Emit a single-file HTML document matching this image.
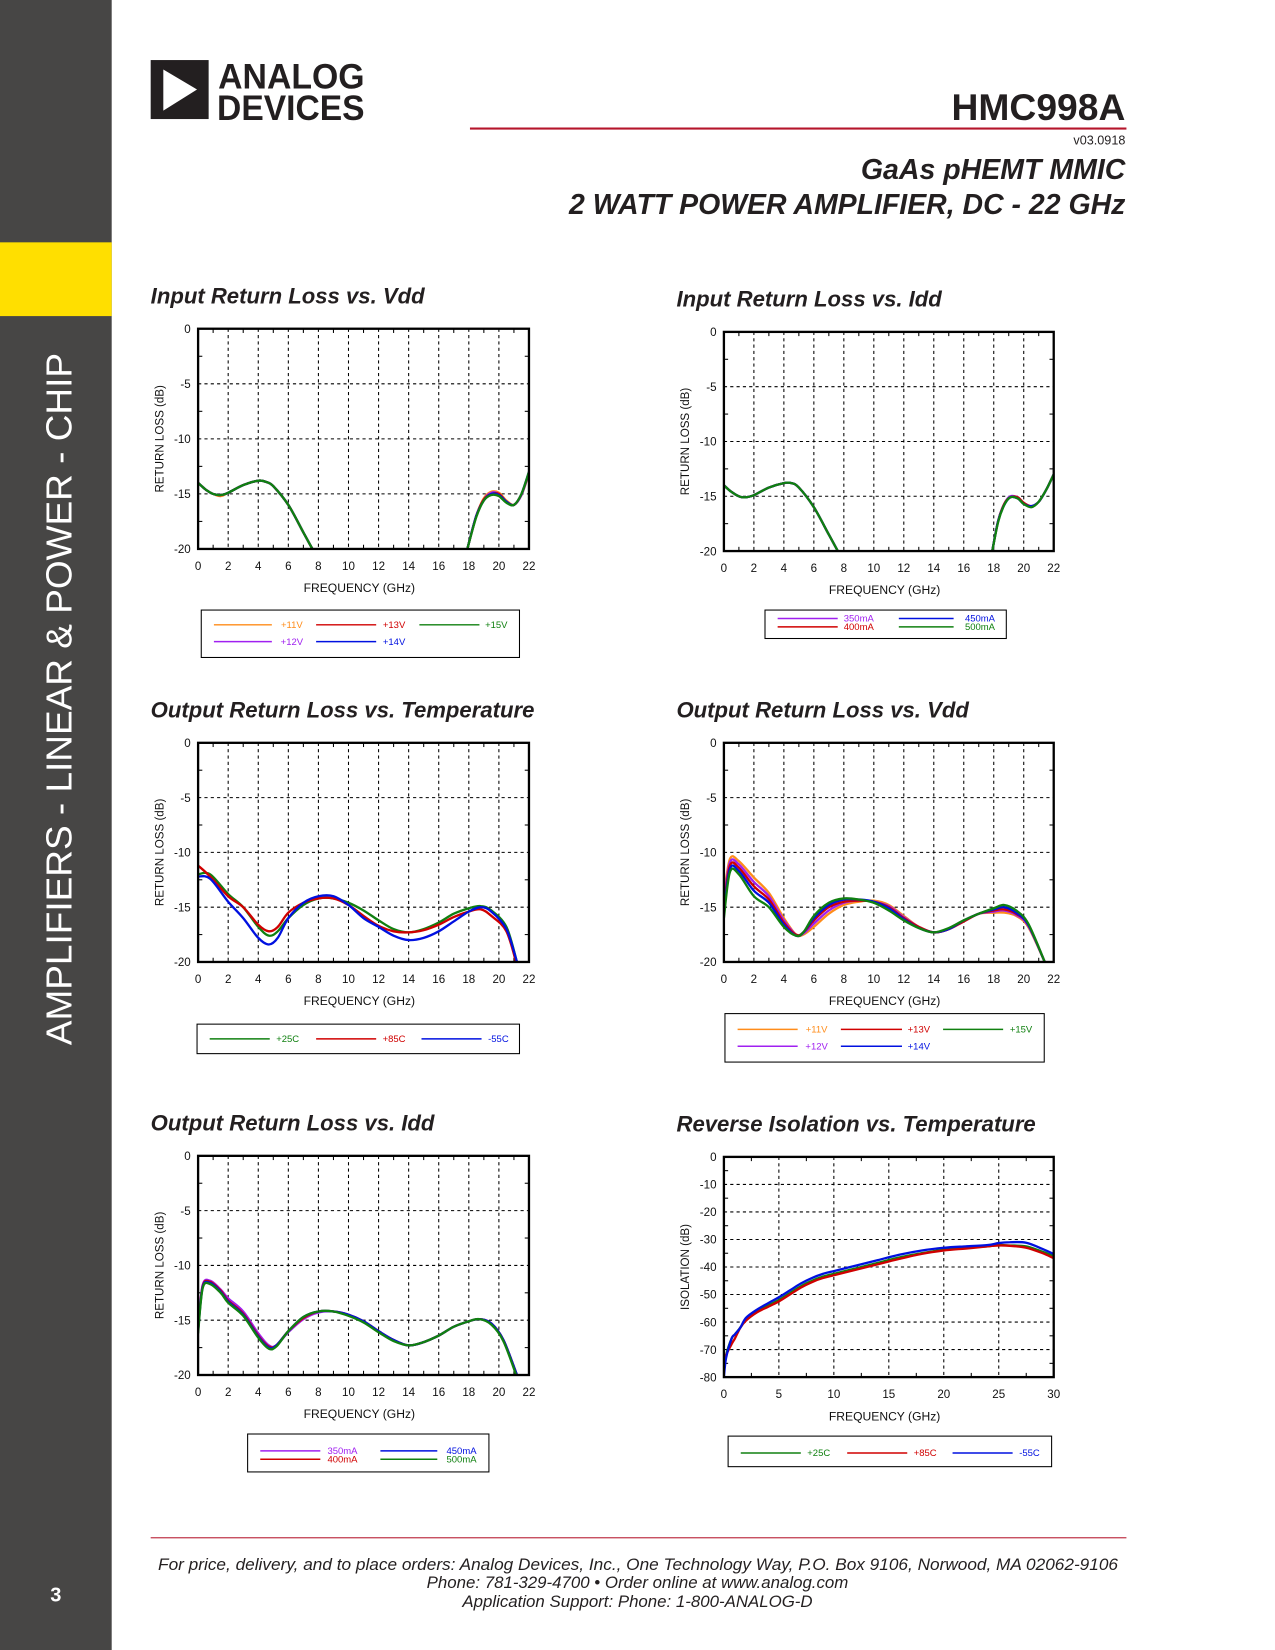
<!DOCTYPE html>
<html><head><meta charset="utf-8"><style>
html,body{margin:0;padding:0;background:#fff;}
svg{display:block;}
text{font-family:"Liberation Sans",Arial,sans-serif;}
</style></head><body>
<svg id="page" width="1275" height="1650" viewBox="0 0 1210 1566" preserveAspectRatio="none" xmlns="http://www.w3.org/2000/svg">
<rect x="0" y="0" width="106" height="1566" fill="#474645"/>
<rect x="0" y="230" width="106" height="70" fill="#ffdf00"/>
<text transform="translate(68,992) rotate(-90)" fill="#fff" font-size="34" textLength="657" lengthAdjust="spacingAndGlyphs">AMPLIFIERS - LINEAR &amp; POWER - CHIP</text>
<text x="53" y="1520" fill="#fff" font-size="19" font-weight="bold" text-anchor="middle">3</text>
<g>
<rect x="143" y="57" width="55" height="56" fill="#231f20"/>
<polygon points="155,66 155,105 187,85" fill="#fff"/>
<text x="207" y="84" font-size="33" font-weight="bold" fill="#231f20" textLength="139" lengthAdjust="spacingAndGlyphs">ANALOG</text>
<text x="206" y="114" font-size="33" font-weight="bold" fill="#231f20" textLength="140" lengthAdjust="spacingAndGlyphs">DEVICES</text>
</g>
<text x="903" y="114" font-size="35" font-weight="bold" fill="#231f20" textLength="165" lengthAdjust="spacingAndGlyphs">HMC998A</text>
<rect x="446" y="121" width="623" height="2" fill="#b5152b"/>
<text x="1068" y="137" font-size="12" text-anchor="end" fill="#231f20">v03.0918</text>
<text x="817" y="170" font-size="27" font-weight="bold" font-style="italic" fill="#231f20" textLength="251" lengthAdjust="spacingAndGlyphs">GaAs pHEMT MMIC</text>
<text x="540" y="203" font-size="27" font-weight="bold" font-style="italic" fill="#231f20" textLength="528" lengthAdjust="spacingAndGlyphs">2 WATT POWER AMPLIFIER, DC - 22 GHz</text>
<rect x="143" y="1459" width="926" height="1" fill="#b5152b"/>
<text x="150" y="1490" font-size="16" font-style="italic" fill="#231f20" textLength="911" lengthAdjust="spacingAndGlyphs">For price, delivery, and to place orders: Analog Devices, Inc., One Technology Way, P.O. Box 9106, Norwood, MA 02062-9106</text>
<text x="605" y="1507" font-size="16" font-style="italic" text-anchor="middle" fill="#231f20">Phone: 781-329-4700 • Order online at www.analog.com</text>
<text x="605" y="1525" font-size="16" font-style="italic" text-anchor="middle" fill="#231f20">Application Support: Phone: 1-800-ANALOG-D</text>
<g id="charts"></g>
</svg>
<script>
// ---- data ----
const c1Freq=[0,0.5,1,1.5,2,3,4,4.5,5,6,7,7.6,null,17.9,18.5,19,19.5,20,20.5,21,21.5,22];
const c1V11=[-14,-14.6,-15,-15.2,-14.9,-14.2,-13.8,-13.9,-14.3,-16,-18.5,-20,null,-20,-17,-15.4,-14.8,-14.9,-15.6,-16,-15.1,-13.2];
const c1V12=[-14,-14.6,-15,-15.1,-14.9,-14.2,-13.8,-13.9,-14.3,-16,-18.5,-20,null,-20,-17,-15.5,-14.9,-15,-15.7,-16,-15.1,-13.1];
const c1V13=[-14,-14.6,-15,-15.1,-14.9,-14.2,-13.8,-13.9,-14.3,-16,-18.5,-20,null,-20,-17,-15.5,-15,-15,-15.7,-16,-15,-13.1];
const c1V14=[-14,-14.6,-15,-15.1,-14.9,-14.2,-13.8,-13.9,-14.3,-16,-18.5,-20,null,-20,-17,-15.6,-15,-15.1,-15.7,-16,-15,-13];
const c1V15=[-14,-14.6,-15,-15.1,-14.9,-14.2,-13.8,-13.9,-14.3,-16,-18.5,-20,null,-20,-17.1,-15.6,-15.1,-15.2,-15.8,-16,-15,-13];

const c2Freq=[0,0.5,1,1.4,2,3,4,4.5,5,6,7,7.6,null,17.9,18.3,18.7,19.1,19.6,20,20.5,21,21.5,22];
const c2I350=[-14,-14.6,-15,-15.1,-14.9,-14.2,-13.8,-13.8,-14.2,-16,-18.5,-20,null,-20,-17.2,-15.7,-15,-15.1,-15.6,-15.9,-15.5,-14.4,-13];
const c2I400=[-14,-14.6,-15,-15.1,-14.9,-14.2,-13.8,-13.8,-14.2,-16,-18.5,-20,null,-20,-17.2,-15.7,-15.1,-15.1,-15.6,-15.9,-15.5,-14.4,-13];
const c2I450=[-14,-14.6,-15,-15.1,-14.9,-14.2,-13.8,-13.8,-14.2,-16,-18.5,-20,null,-20,-17.2,-15.8,-15.1,-15.2,-15.7,-15.9,-15.5,-14.4,-13];
const c2I500=[-14,-14.6,-15,-15.1,-14.9,-14.2,-13.8,-13.8,-14.2,-16,-18.5,-20,null,-20,-17.3,-15.8,-15.1,-15.2,-15.7,-16,-15.5,-14.4,-13];

const c3Freq=[0,0.8,2,3,4,4.7,5.3,6,7,8,9,10,11,12,13,14,15,16,17,18,18.8,19.5,20.5,21.2];
const c3T25=[-12,-12,-13.8,-15,-16.8,-17.6,-17.2,-16,-14.8,-14.2,-14.2,-14.6,-15.3,-16.2,-17,-17.3,-17,-16.4,-15.6,-15.1,-14.9,-15.3,-16.8,-20];
const c3T85=[-11.2,-12.2,-14,-15,-16.6,-17.2,-16.8,-15.5,-14.6,-14.2,-14.2,-14.8,-15.8,-16.7,-17.2,-17.3,-17.1,-16.6,-15.9,-15.4,-15.2,-15.8,-17.2,-20.3];
const c3Tm55=[-12.2,-12.4,-14.5,-16,-17.8,-18.4,-17.8,-16,-14.6,-14,-14,-14.8,-16,-16.8,-17.6,-18,-17.8,-17.2,-16.3,-15.4,-15,-15.4,-17,-20];

const c4Freq=[0,0.4,1,2,3,4,4.8,5.3,6,7,8,9,10,11,12,13,14,15,16,17,18,18.7,19.5,20.3,21.4];
const c4V11=[-14,-10.6,-10.8,-12.3,-13.7,-16,-17.5,-17.5,-16.8,-15.6,-14.8,-14.5,-14.4,-14.8,-15.8,-16.8,-17.3,-17,-16.3,-15.6,-15.5,-15.5,-15.8,-16.8,-20];
const c4V12=[-14.5,-10.9,-11.1,-12.7,-14,-16.2,-17.5,-17.4,-16.5,-15.3,-14.6,-14.4,-14.5,-14.9,-15.9,-16.8,-17.3,-17,-16.3,-15.6,-15.4,-15.3,-15.7,-16.7,-20];
const c4V13=[-15,-11.2,-11.4,-13.1,-14.3,-16.4,-17.5,-17.3,-16.2,-15,-14.5,-14.4,-14.5,-15,-16,-16.8,-17.3,-17,-16.3,-15.6,-15.3,-15.2,-15.6,-16.6,-20];
const c4V14=[-15.5,-11.5,-11.7,-13.5,-14.6,-16.6,-17.6,-17.3,-16,-14.8,-14.3,-14.3,-14.5,-15.1,-16.1,-16.9,-17.3,-17,-16.2,-15.6,-15.2,-15,-15.5,-16.6,-20];
const c4V15=[-16,-11.8,-12,-14,-15,-16.8,-17.6,-17.3,-15.8,-14.6,-14.2,-14.3,-14.6,-15.3,-16.2,-16.9,-17.3,-16.9,-16.2,-15.6,-15.1,-14.8,-15.3,-16.5,-20];

const c5Freq=[0,0.3,0.8,1.5,2,3,4,4.7,5.2,6,7,8,9,10,11,12,13,14,15,16,17,18,18.7,19.5,20.3,21.2];
const c5I350=[-15.6,-11.8,-11.4,-12.2,-13,-14.2,-16.2,-17.3,-17.3,-16.1,-14.9,-14.3,-14.2,-14.5,-15.1,-16,-16.8,-17.3,-17,-16.4,-15.6,-15.1,-14.9,-15.3,-16.8,-20];
const c5I400=[-15.8,-11.9,-11.5,-12.3,-13.2,-14.4,-16.4,-17.4,-17.3,-16,-14.8,-14.2,-14.2,-14.5,-15.1,-16,-16.8,-17.3,-17,-16.4,-15.6,-15.1,-14.9,-15.3,-16.8,-20];
const c5I450=[-16,-12,-11.6,-12.4,-13.3,-14.5,-16.5,-17.5,-17.3,-16,-14.7,-14.2,-14.2,-14.5,-15.1,-16,-16.8,-17.3,-17,-16.4,-15.6,-15.1,-14.9,-15.3,-16.8,-20];
const c5I500=[-16.2,-12.1,-11.7,-12.5,-13.4,-14.6,-16.6,-17.6,-17.4,-16,-14.7,-14.2,-14.2,-14.6,-15.2,-16.1,-16.9,-17.3,-17,-16.4,-15.6,-15.1,-14.9,-15.4,-16.9,-20.2];

const c6Freq=[0,0.2,0.7,1,1.5,2,3,4,5,6,7,8,9,10,12,14,16,18,20,22,24,25,26,27.5,29,30];
const c6T25=[-78,-72,-66,-64.5,-62,-59,-56,-54,-52,-49.5,-47,-45,-43.5,-42.5,-40.5,-38.5,-36.5,-35,-33.7,-33,-32.5,-32,-32.2,-32.5,-34.5,-36];
const c6T85=[-75,-72,-68,-66,-62,-59.5,-56.5,-54.5,-52.5,-50,-47.5,-45.5,-44,-43,-41,-39,-37,-35.2,-34,-33.3,-32.5,-32.2,-32.3,-33,-35,-36.8];
const c6Tm55=[-80,-73,-66,-64.5,-62,-58.5,-55.5,-53.2,-51,-48.5,-46,-44,-42.5,-41.5,-39.5,-37.5,-35.5,-34,-33,-32.5,-32,-31.3,-31,-31.2,-33.5,-35.3];

const rlXTicks=[0,2,4,6,8,10,12,14,16,18,20,22];
const rlYTicks=[0,-5,-10,-15,-20];
const isoXTicks=[0,5,10,15,20,25,30];
const isoYTicks=[0,-10,-20,-30,-40,-50,-60,-70,-80];

const ORANGE='#ff8c1a',PURPLE='#a020f0',RED='#d00000',BLUE='#0010e0',GREEN='#108010';
const NS='http://www.w3.org/2000/svg';
const root=document.getElementById('charts');
function mk(tag,attrs,parent){const e=document.createElementNS(NS,tag);for(const k in attrs)e.setAttribute(k,attrs[k]);(parent||root).appendChild(e);return e;}
function smooth(pts){
  if(pts.length<2)return '';
  let d='M'+pts[0][0].toFixed(1)+','+pts[0][1].toFixed(1);
  for(let i=0;i<pts.length-1;i++){
    const p0=pts[i>0?i-1:i],p1=pts[i],p2=pts[i+1],p3=pts[i+2<pts.length?i+2:i+1];
    const c1x=p1[0]+(p2[0]-p0[0])/6,c1y=p1[1]+(p2[1]-p0[1])/6;
    const c2x=p2[0]-(p3[0]-p1[0])/6,c2y=p2[1]-(p3[1]-p1[1])/6;
    d+='C'+c1x.toFixed(1)+','+c1y.toFixed(1)+' '+c2x.toFixed(1)+','+c2y.toFixed(1)+' '+p2[0].toFixed(1)+','+p2[1].toFixed(1);
  }
  return d;
}

function chart(o){
  const g=mk('g',{});
  
  
  const t=mk('text',{x:o.L-45,y:o.T-24,'font-size':21,'font-weight':'bold','font-style':'italic',fill:'#231f20'},g);
  t.textContent=o.title;
  
  
  const W=o.R-o.L,H=o.B-o.T;
  const sx=v=>o.L+(v-o.xmin)/(o.xmax-o.xmin)*W;
  const sy=v=>o.T+(o.ymax-v)/(o.ymax-o.ymin)*H;
  o.xt.forEach(v=>{const x=sx(v);
    if(v!==o.xmin&&v!==o.xmax){const l=mk('line',{x1:x,x2:x,y1:o.T,y2:o.B,stroke:'#000','stroke-width':1,'stroke-dasharray':'3,3'},g);
      }
    const tx=mk('text',{x:x,y:o.B+20,'font-size':11,'text-anchor':'middle',fill:'#111'},g);tx.textContent=v;
    
  });
  for(let i=0;i<o.xt.length-1;i++){const x=(sx(o.xt[i])+sx(o.xt[i+1]))/2;mk('line',{x1:x,x2:x,y1:o.B,y2:o.B-4,stroke:'#000'},g);mk('line',{x1:x,x2:x,y1:o.T,y2:o.T+4,stroke:'#000'},g);}
  for(let i=0;i<o.yt.length-1;i++){const y=(sy(o.yt[i])+sy(o.yt[i+1]))/2;mk('line',{x1:o.L,x2:o.L+4,y1:y,y2:y,stroke:'#000'},g);mk('line',{x1:o.R,x2:o.R-4,y1:y,y2:y,stroke:'#000'},g);}
  o.yt.forEach(v=>{const y=sy(v);
    if(v!==o.ymin&&v!==o.ymax){const l=mk('line',{x1:o.L,x2:o.R,y1:y,y2:y,stroke:'#000','stroke-width':1,'stroke-dasharray':'3,3'},g);
      }
    const ty=mk('text',{x:o.L-7,y:y+4,'font-size':11,'text-anchor':'end',fill:'#111'},g);ty.textContent=v;
    
  });
  const cp='cp'+o.name;
  const cd=mk('clipPath',{id:cp},g);mk('rect',{x:o.L,y:o.T,width:W,height:H},cd);
  o.series.forEach(s=>{
    let d='',seg=[];
    for(let i=0;i<=o.x.length;i++){
      if(i===o.x.length||o.x[i]===null||s.v[i]===null){d+=smooth(seg);seg=[];continue;}
      seg.push([sx(o.x[i]),sy(s.v[i])]);}
    const p=mk('path',{d:d,fill:'none',stroke:s.c,'stroke-width':s.w||2.2,'stroke-linejoin':'round','clip-path':'url(#'+cp+')'},g);
    
    
  });
  const fr=mk('rect',{x:o.L,y:o.T,width:W,height:H,fill:'none',stroke:'#000','stroke-width':2.2},g);
  
  const xl=mk('text',{x:(o.L+o.R)/2-4,y:o.B+41,'font-size':11.5,'text-anchor':'middle',fill:'#111'},g);xl.textContent='FREQUENCY (GHz)';
  
  const yl=mk('text',{transform:'translate('+(o.L-33)+','+((o.T+o.B)/2)+') rotate(-90)','font-size':11,'text-anchor':'middle',fill:'#111'},g);yl.textContent=o.ytitle;
  
  const lg=mk('g',{},g);
  
  mk('rect',{x:o.lb[0],y:o.lb[1],width:o.lb[2],height:o.lb[3],fill:'#fff',stroke:'#000','stroke-width':1},lg);
  o.legend.forEach(e=>{
    const s=o.series[e[0]];
    mk('line',{x1:e[1],x2:e[2],y1:e[4],y2:e[4],stroke:s.c,'stroke-width':1.4},lg);
    const tt=mk('text',{x:e[3],y:e[4]+3,'font-size':9,'text-anchor':'middle',fill:s.c},lg);tt.textContent=s.label;
    
  });
}

chart({name:'chart-input-rl-vdd',title:'Input Return Loss vs. Vdd',L:188,R:502,T:312,B:521,xmin:0,xmax:22,ymin:-20,ymax:0,xt:rlXTicks,yt:rlYTicks,ytitle:'RETURN LOSS (dB)',x:c1Freq,
 series:[{label:'+11V',c:ORANGE,v:c1V11},{label:'+12V',c:PURPLE,v:c1V12},{label:'+13V',c:RED,v:c1V13},{label:'+14V',c:BLUE,v:c1V14},{label:'+15V',c:GREEN,v:c1V15}],
 lb:[191,579,302,45],legend:[[0,203,258,277,593],[1,203,258,277,609],[2,300,357,374,593],[3,300,357,374,609],[4,398,455,471,593]]});
chart({name:'chart-input-rl-idd',title:'Input Return Loss vs. Idd',L:687,R:1000,T:315,B:523,xmin:0,xmax:22,ymin:-20,ymax:0,xt:rlXTicks,yt:rlYTicks,ytitle:'RETURN LOSS (dB)',x:c2Freq,
 series:[{label:'350mA',c:PURPLE,v:c2I350},{label:'400mA',c:RED,v:c2I400},{label:'450mA',c:BLUE,v:c2I450},{label:'500mA',c:GREEN,v:c2I500}],
 lb:[726,579,229,27],legend:[[0,738,795,815,587],[1,738,795,815,595],[2,853,905,930,587],[3,853,905,930,595]]});
chart({name:'chart-output-rl-temp',title:'Output Return Loss vs. Temperature',L:188,R:502,T:705,B:913,xmin:0,xmax:22,ymin:-20,ymax:0,xt:rlXTicks,yt:rlYTicks,ytitle:'RETURN LOSS (dB)',x:c3Freq,
 series:[{label:'+25C',c:GREEN,v:c3T25},{label:'+85C',c:RED,v:c3T85},{label:'-55C',c:BLUE,v:c3Tm55}],
 lb:[187,972,306,28],legend:[[0,199,256,273,986],[1,300,357,374,986],[2,400,457,473,986]]});
chart({name:'chart-output-rl-vdd',title:'Output Return Loss vs. Vdd',L:687,R:1000,T:705,B:913,xmin:0,xmax:22,ymin:-20,ymax:0,xt:rlXTicks,yt:rlYTicks,ytitle:'RETURN LOSS (dB)',x:c4Freq,
 series:[{label:'+11V',c:ORANGE,v:c4V11},{label:'+12V',c:PURPLE,v:c4V12},{label:'+13V',c:RED,v:c4V13},{label:'+14V',c:BLUE,v:c4V14},{label:'+15V',c:GREEN,v:c4V15}],
 lb:[688,962,303,46],legend:[[0,700,757,775,977],[1,700,757,775,993],[2,798,856,872,977],[3,798,856,872,993],[4,895,952,969,977]]});
chart({name:'chart-output-rl-idd',title:'Output Return Loss vs. Idd',L:188,R:502,T:1097,B:1305,xmin:0,xmax:22,ymin:-20,ymax:0,xt:rlXTicks,yt:rlYTicks,ytitle:'RETURN LOSS (dB)',x:c5Freq,
 series:[{label:'350mA',c:PURPLE,v:c5I350},{label:'400mA',c:RED,v:c5I400},{label:'450mA',c:BLUE,v:c5I450},{label:'500mA',c:GREEN,v:c5I500}],
 lb:[235,1361,229,36],legend:[[0,247,304,325,1377],[1,247,304,325,1385],[2,361,415,438,1377],[3,361,415,438,1385]]});
chart({name:'chart-reverse-isolation-temp',title:'Reverse Isolation vs. Temperature',L:687,R:1000,T:1098,B:1307,xmin:0,xmax:30,ymin:-80,ymax:0,xt:isoXTicks,yt:isoYTicks,ytitle:'ISOLATION (dB)',x:c6Freq,
 series:[{label:'+25C',c:GREEN,v:c6T25},{label:'+85C',c:RED,v:c6T85},{label:'-55C',c:BLUE,v:c6Tm55}],
 lb:[691,1363,307,29],legend:[[0,703,760,777,1379],[1,804,861,878,1379],[2,904,961,977,1379]]});
</script>
</body></html>
